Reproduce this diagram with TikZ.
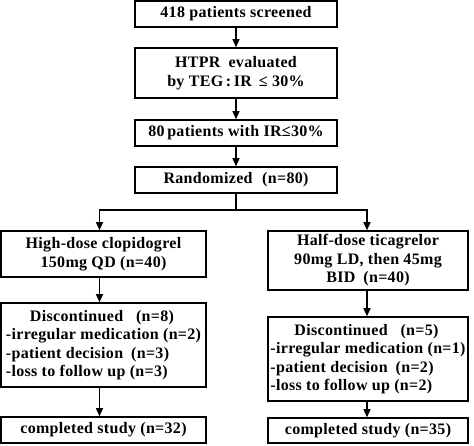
\documentclass[tikz,border=0pt]{standalone}
\usepackage{fontspec}
\setmainfont{Liberation Serif}[LetterSpace=2]
\usetikzlibrary{arrows.meta}
\begin{document}
\begin{tikzpicture}[x=1pt,y=-1pt,
  box/.style={draw, line width=1.6pt, inner sep=0pt, font=\bfseries\fontsize{16}{18.5}\selectfont, align=center},
  top/.style={box, minimum width=202pt},
  lft/.style={box, minimum width=205pt},
  rgt/.style={box, minimum width=200pt},
  arr/.style={line width=1.4pt, -{Triangle[length=8pt,width=7pt]}},
  ln/.style={line width=1.4pt}]
\useasboundingbox (0,0) rectangle (474,445);
\node[top, minimum height=26pt] (b1) at (236,14) {418 patients screened};
\node[top, minimum height=50pt] (b2) at (236,73) {HTPR\hspace{0.5em}evaluated\\by TEG\,:\,IR\, ≤ 30\%};
\node[top, minimum height=26pt] (b3) at (236,133) {80\,patients with IR≤30\%};
\node[top, minimum height=26pt] (b4) at (236,180) {Randomized\hspace{0.6em}(n=80)};
\node[lft, minimum height=46pt] (l1) at (103.5,254) {High-dose clopidogrel\\150mg QD (n=40)};
\node[lft, minimum height=84pt, align=left] (l2) at (103.5,345) {\hspace*{1.5em}Discontinued\hspace{0.8em}(n=8)\\-irregular medication (n=2)\\-patient decision\hspace{0.5em}(n=3)\\-loss to follow up (n=3)};
\node[lft, minimum height=26pt] (l3) at (103.5,430) {completed study (n=32)};
\node[rgt, minimum height=59pt] (r1) at (368,260.5) {Half-dose ticagrelor\\90mg LD, then 45mg\\BID\hspace{0.5em}(n=40)};
\node[rgt, minimum height=84pt, align=left] (r2) at (368,359) {\hspace*{1.5em}Discontinued\hspace{0.8em}(n=5)\\-irregular medication (n=1)\\-patient decision\hspace{0.5em}(n=2)\\-loss to follow up (n=2)};
\node[rgt, minimum height=25pt] (r3) at (368,430.5) {completed study (n=35)};
\coordinate (split) at (236,210);
\draw[arr] (b1) -- (b2);
\draw[arr] (b2) -- (b3);
\draw[arr] (b3) -- (b4);
\draw[ln] (b4.south) -- (split);
\draw[arr] (split) -| ([xshift=-4pt]l1.north);
\draw[arr] (split) -| ([xshift=-1pt]r1.north);
\draw[arr] ([xshift=-4pt]l1.south) -- ([xshift=-4pt]l2.north);
\draw[arr] ([xshift=-4pt]l2.south) -- ([xshift=-4pt]l3.north);
\draw[arr] ([xshift=-1pt]r1.south) -- ([xshift=-1pt]r2.north);
\draw[arr] ([xshift=-1pt]r2.south) -- ([xshift=-1pt]r3.north);
\end{tikzpicture}
\end{document}
